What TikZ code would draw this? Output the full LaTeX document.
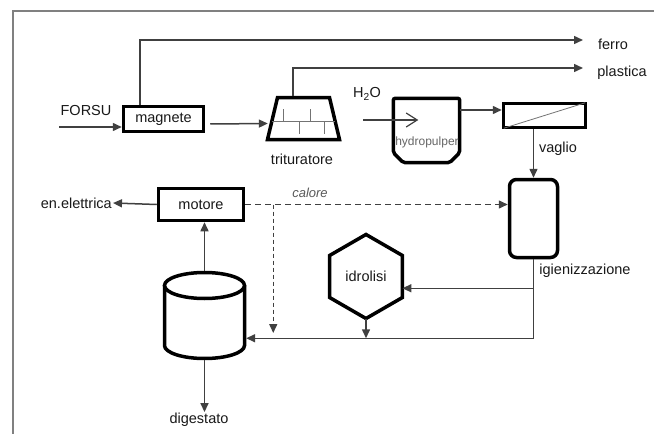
\documentclass[tikz,border=0pt]{standalone}
\usepackage{fontspec}
\setmainfont{Liberation Sans}
\usetikzlibrary{arrows.meta,shapes.geometric,calc}
\begin{document}
\begin{tikzpicture}[x=1pt,y=-1pt,
  txt/.style={font=\fontsize{14.5}{16}\selectfont,text=black!90},
  box/.style={draw=black,line width=3.5pt,inner sep=0pt,txt},
  conn/.style={draw=black!75,line width=1.5pt},
  arr/.style={conn,-{Triangle[length=9pt,width=8pt]}},
  lbl/.style={txt,inner sep=1pt},
  thinline/.style={draw=black!55,line width=1pt},
]
\useasboundingbox (0,0) rectangle (654,434);
\fill[white] (0,0) rectangle (654,434);
\draw[black!50,line width=1.2pt] (654,11) -- (13,11) -- (13,434);

% ---------- nodes ----------
\node[box,minimum width=80pt,minimum height=25pt] (magnete) at (163.5,119) {magnete};
\node[lbl] (forsu) at (86,111) {FORSU};
\coordinate (forsuin) at (59,127);

\node[minimum width=75pt,minimum height=44pt,inner sep=0pt] (trit) at (303.5,118.5) {};
\begin{scope}[shift={(trit.center)}]
  \draw[line width=3.5pt,line join=miter] (-26,-21) -- (26,-21) -- (36,21) -- (-36,21) -- cycle;
  \draw[thinline] (-31.6,2.5) -- (31.6,2.5);
  \draw[thinline] (-20.5,-9.5) -- (-20.5,2.5);
  \draw[thinline] (6.5,-9.5) -- (6.5,2.5);
  \draw[thinline] (-4.5,2.5) -- (-4.5,15.5);
  \draw[thinline] (20.5,2.5) -- (20.5,15.5);
\end{scope}
\node[lbl] (tritlbl) at (302,159) {trituratore};

\node[lbl] (h2o) at (367,94) {H\textsubscript{2}O};
\node[minimum width=66pt,minimum height=64pt,inner sep=0pt] (hp) at (426.5,130.5) {};
\draw[line width=3.5pt,rounded corners=2pt]
  (hp.north west) -- ([shift={(0,-10)}]hp.south west) -- ([shift={(10,0)}]hp.south west)
  -- ([shift={(-10,0)}]hp.south east) -- ([shift={(0,-10)}]hp.south east) -- (hp.north east) -- cycle;
\node[font=\fontsize{12}{13}\selectfont,text=black!60,inner sep=0pt] (hptext) at (427,142) {hydropulper};
\coordinate (h2oin) at (363,120);

\node[box,minimum width=82pt,minimum height=24pt] (vaglio) at (544.5,115.5) {};
\draw[thinline,line width=0.8pt] ([shift={(2,-1)}]vaglio.south west) -- ([shift={(-2,1)}]vaglio.north east);
\node[lbl] (vagliolbl) at (558,149) {vaglio};

\node[box,rounded corners=7pt,minimum width=48pt,minimum height=78pt] (igien) at (533.5,218.5) {};
\node[lbl] (igienlbl) at (585,271) {igienizzazione};

\node[box,minimum width=85pt,minimum height=32pt] (motore) at (201,204.5) {motore};
\node[lbl,anchor=east] (ee) at (113,203) {en.elettrica};
\node[font=\fontsize{13}{14}\selectfont\itshape,text=black!65,inner sep=1pt] (calore) at (310,193) {calore};

\node[box,draw=none,shape=regular polygon,regular polygon sides=6,shape border rotate=30,
      minimum size=80pt] (idro) at (366,276.5) {idrolisi};
\draw[line width=3.5pt,line join=miter] (idro.corner 1) -- (idro.corner 2) -- (idro.corner 3)
  -- (idro.corner 4) -- (idro.corner 5) -- (idro.corner 6) -- cycle;

\node[minimum width=83pt,minimum height=89pt,inner sep=0pt] (cyl) at (204.5,315.5) {};
\begin{scope}[shift={(cyl.center)}]
  \draw[line width=3.5pt] (-40,-30) -- (-40,30) arc[start angle=180,end angle=360,x radius=40pt,y radius=13pt] -- (40,-30);
  \draw[line width=3.5pt] (0,-30) ellipse [x radius=40pt,y radius=13pt];
\end{scope}
\node[lbl] (digest) at (199,420) {digestato};

\node[lbl] (ferro) at (613,44) {ferro};
\node[lbl] (plastica) at (622,73) {plastica};
\coordinate (ferroend) at (583,40);
\coordinate (plend) at (583,68);

% ---------- connectors ----------
\draw[arr] (forsuin) -- (forsuin -| magnete.west);
\draw[arr] ([shift={(5,5)}]magnete.east) -- ([shift={(2,5)}]trit.west);
\draw[arr] ([shift={(-23.5,0)}]magnete.north) |- (ferroend);
\draw[arr] ([shift={(-10.5,0)}]trit.north) |- (plend);
\draw[conn,-{Straight Barb[length=11pt,width=14pt,line width=1.2pt]}] (h2oin) -- ([shift={(25,-10.5)}]hp.west);
\draw[arr] ([shift={(0,-20.5)}]hp.east) -- ([shift={(0,-5.5)}]vaglio.west);
\draw[arr] (igien.north |- vaglio.south) -- (igien.north);

\draw[arr] (motore.west) -- (ee.east);
\draw[conn,dash pattern=on 6pt off 4pt,-{Triangle[length=9pt,width=8pt]}] (motore.east) -- (motore.east -| igien.west);
\coordinate (cbr) at ($(motore.east)+(28,0)$);
\coordinate (cend) at ($(cbr)+(0,128.5)$);
\draw[conn,dash pattern=on 4pt off 3pt,-{Triangle[length=9pt,width=8pt]}] (cbr) -- (cend);

\draw[arr] (cyl.north) -- (cyl.north |- motore.south);
\draw[arr] (cyl.south) -- (cyl.south |- digest.north);

\coordinate (corner) at ($(igien.south)+(0,79)$);
\coordinate (br) at ($(igien.south)+(0,29)$);
\draw[arr] (igien.south) -- (corner) -- (corner -| cyl.east);
\draw[arr] (br) -- (br -| idro.east);
\draw[arr] (idro.south) -- (idro.south |- corner);
\end{tikzpicture}
\end{document}
